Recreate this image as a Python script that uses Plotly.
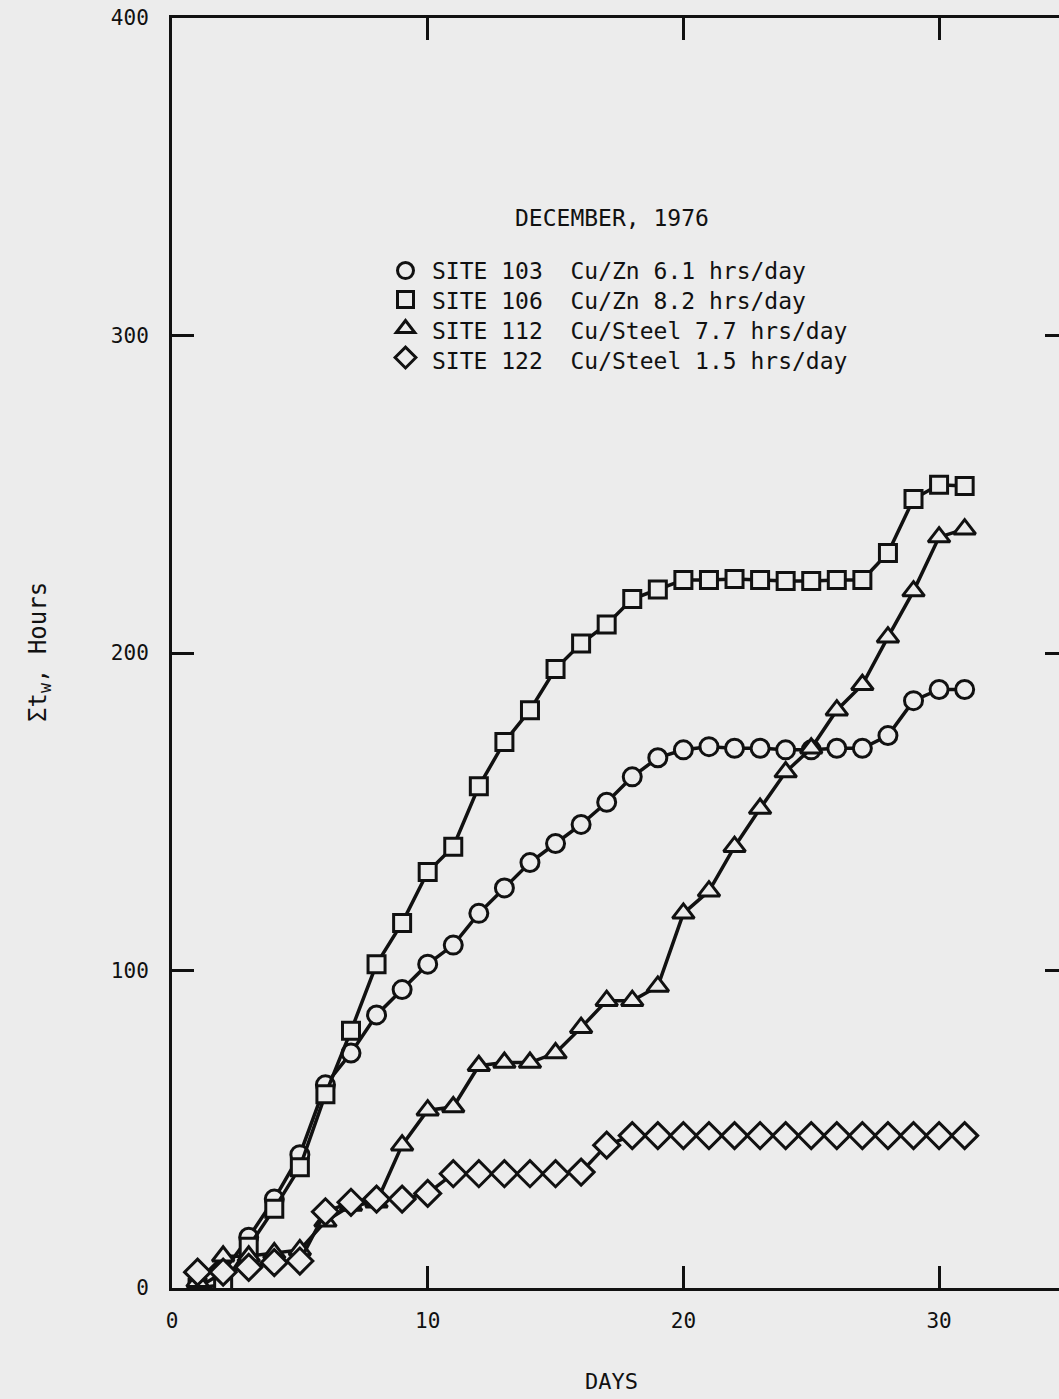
import plotly.graph_objects as go

# ---- data ----
days = list(range(1, 32))
site103 = [0, 5, 16, 28, 42, 64, 74, 86, 94, 102, 108, 118, 126, 134, 140, 146, 153, 161, 167,
           169.5, 170.5, 170, 170, 169.5, 169.5, 170, 170, 174, 185, 188.5, 188.5]
site106 = [0, 1, 13, 25, 38, 61, 81, 102, 115, 131, 139, 158, 172, 182, 195, 203, 209, 217, 220,
           223, 223, 223.3, 223, 222.7, 222.7, 223, 223, 231.5, 248.5, 253, 252.6]
site112 = [2, 10, 10, 11, 12, 21, 26, 27, 45, 56, 57, 70, 71, 71, 74, 82, 90.5, 90.5, 95,
           118, 125, 139, 151, 162.5, 170, 182, 190, 205, 219.5, 236.5, 239]
site122 = [5, 5, 6.5, 8, 8.5, 24, 27, 28, 28, 29.8, 36, 36, 36, 36, 36, 36.5, 45, 48, 48,
           48, 48, 48, 48, 48, 48, 48, 48, 48, 48, 48, 48]

site_labels = ["SITE 103", "SITE 106", "SITE 112", "SITE 122"]
site_desc = ["Cu/Zn 6.1 hrs/day", "Cu/Zn 8.2 hrs/day", "Cu/Steel 7.7 hrs/day", "Cu/Steel 1.5 hrs/day"]
values = [site103, site106, site112, site122]
symbols = ["circle", "square", "triangle-up", "diamond"]
sizes = [18, 17, 19, 20]

x_ticks = [0, 10, 20, 30]
y_ticks = [0, 100, 200, 300, 400]

BG = "#ececec"
INK = "#111111"
FONT = "DejaVu Sans Mono"

fig = go.Figure()
for vals, sym, size in zip(values, symbols, sizes):
    fig.add_trace(go.Scatter(
        x=days, y=vals, mode="lines+markers", showlegend=False,
        line=dict(color=INK, width=3.5),
        marker=dict(symbol=sym, size=size, color=BG, line=dict(color=INK, width=3)),
    ))
# legend keys (symbol only); the text is set as an annotation
for lab, sym in zip(site_labels, symbols):
    fig.add_trace(go.Scatter(
        x=[None], y=[None], mode="markers", name="\u00a0", legendgroup=lab, showlegend=True,
        marker=dict(symbol=sym, size=16, color=BG, line=dict(color=INK, width=3)),
    ))

fig.add_trace(go.Scatter(x=[None], y=[None], yaxis="y2", showlegend=False))

legend_text = "<br>".join(f"{a}\u00a0\u00a0{b}" for a, b in zip(site_labels, site_desc))

fig.update_layout(
    width=1059, height=1399,
    margin=dict(l=172, r=0, t=18, b=111),
    paper_bgcolor=BG, plot_bgcolor=BG,
    font=dict(family=FONT, color=INK, size=21),
    xaxis=dict(range=[0, 34.69], tickvals=x_ticks, ticks="inside", ticklen=22, tickwidth=3,
               tickcolor=INK, showline=True, linewidth=3, linecolor=INK, mirror="ticks",
               showgrid=False, zeroline=False, ticklabelstandoff=12,
               tickfont=dict(family=FONT, size=21)),
    yaxis=dict(range=[0, 400], tickvals=y_ticks, ticks="inside", ticklen=22, tickwidth=3,
               tickcolor=INK, showline=True, linewidth=3, linecolor=INK, mirror=False,
               showgrid=False, zeroline=False, ticklabelstandoff=16,
               tickfont=dict(family=FONT, size=21)),
    yaxis2=dict(range=[0, 400], tickvals=y_ticks[1:-1], overlaying="y", side="right",
                ticks="inside", ticklen=14, tickwidth=3, tickcolor=INK, showline=False,
                showticklabels=False, showgrid=False, zeroline=False),
    legend=dict(x=0.2407, y=0.8165, xanchor="left", yanchor="top", bgcolor="rgba(0,0,0,0)",
                font=dict(family=FONT, size=20, color=INK), tracegroupgap=0),
    annotations=[
        dict(text="DECEMBER, 1976", x=0.496, y=0.8425, xref="paper", yref="paper",
             xanchor="center", yanchor="middle",
             showarrow=False, font=dict(family=FONT, size=23, color=INK)),
        dict(text=legend_text, x=0.2909, y=0.7657, xref="paper", yref="paper",
             xanchor="left", yanchor="middle", align="left",
             showarrow=False, font=dict(family=FONT, size=23, color=INK)),
        dict(text="\u03a3t<sub>w</sub>, Hours", x=-0.1488, y=0.5008, xref="paper", yref="paper",
             xanchor="center", yanchor="middle",
             showarrow=False, textangle=-90, font=dict(family=FONT, size=24, color=INK)),
        dict(text="DAYS", x=0.496, y=-0.074, xref="paper", yref="paper",
             xanchor="center", yanchor="middle",
             showarrow=False, font=dict(family=FONT, size=22, color=INK)),
    ],
)

fig.write_html(
    "out.html",
    config={"displayModeBar": False},
    post_script="document.body.style.margin='0';document.body.style.background='#ececec';",
)
